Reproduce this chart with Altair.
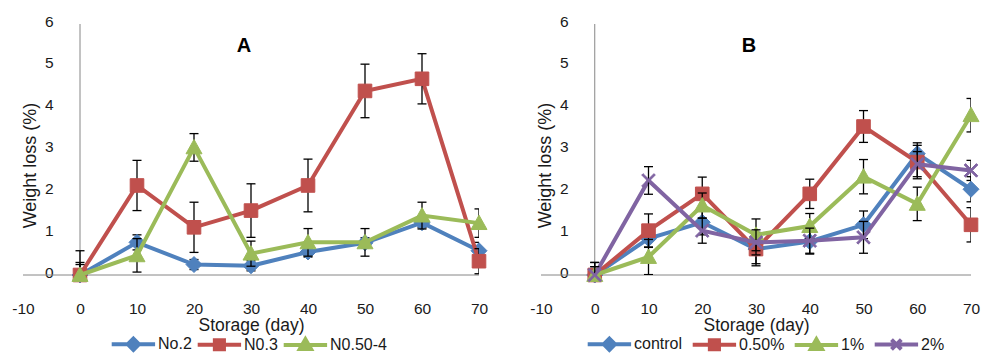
import altair as alt
import pandas as pd

FONT = "Liberation Sans"

days = [0, 10, 20, 30, 40, 50, 60, 70]
x_ticks = [-10, 0, 10, 20, 30, 40, 50, 60, 70]
y_ticks = [0, 1, 2, 3, 4, 5, 6]

# Panel A
a_names = ["No.2", "N0.3", "N0.50-4"]
a_no2 = [0, 0.78, 0.25, 0.22, 0.55, 0.77, 1.25, 0.58]
a_no2_err = [0.3, 0.18, 0.12, 0.12, 0.12, 0.12, 0.12, 0.2]
a_n03 = [0, 2.14, 1.14, 1.54, 2.14, 4.40, 4.69, 0.33]
a_n03_err = [0.58, 0.6, 0.6, 0.64, 0.63, 0.64, 0.6, 0.3]
a_n050 = [0, 0.47, 3.05, 0.51, 0.78, 0.78, 1.42, 1.24]
a_n050_err = [0.25, 0.4, 0.33, 0.3, 0.33, 0.33, 0.32, 0.34]

# Panel B
b_names = ["control", "0.50%", "1%", "2%"]
b_control = [0, 0.87, 1.26, 0.62, 0.8, 1.2, 2.9, 2.05]
b_control_err = [0.3, 0.2, 0.3, 0.4, 0.3, 0.33, 0.26, 0.3]
b_050 = [0, 1.06, 1.94, 0.62, 1.94, 3.55, 2.7, 1.2]
b_050_err = [0.3, 0.4, 0.4, 0.35, 0.35, 0.38, 0.4, 0.41]
b_1 = [0, 0.43, 1.66, 0.96, 1.17, 2.35, 1.7, 3.82]
b_1_err = [0.2, 0.42, 0.3, 0.38, 0.3, 0.41, 0.4, 0.4]
b_2 = [0, 2.26, 1.06, 0.78, 0.82, 0.9, 2.65, 2.5]
b_2_err = [0.2, 0.33, 0.3, 0.3, 0.3, 0.38, 0.3, 0.24]

BLUE, RED, GREEN, PURPLE = "#4F81BD", "#C0504D", "#9BBB59", "#8064A2"
AXIS_GREY = "#868686"
TEXT = "#1a1a1a"

# marker outlines (unit square, scaled by the symbol size)
P_DIAMOND = "M0,-1L1,0L0,1L-1,0Z"
P_SQUARE = "M-0.85,-0.85H0.85V0.85H-0.85Z"
P_TRIANGLE = "M0,-1L1,0.8H-1Z"
P_X = ("M-0.85,-0.68L-0.68,-0.85L0,-0.17L0.68,-0.85L0.85,-0.68L0.17,0"
       "L0.85,0.68L0.68,0.85L0,0.17L-0.68,0.85L-0.85,0.68L-0.17,0Z")

# legend symbols: line segment with marker in the middle
L_LINE = "M-4.9,0L1.3,0"
L_DIAMOND = L_LINE + "M-1.8,-0.8L-1.0,0L-1.8,0.8L-2.6,0Z"
L_SQUARE = L_LINE + "M-2.45,-0.65H-1.15V0.65H-2.45Z"
L_TRIANGLE = L_LINE + "M-1.8,-0.8L-1.0,0.6H-2.6Z"
L_X = L_LINE + "M-2.5,-0.7L-1.1,0.7M-2.5,0.7L-1.1,-0.7"


def make_df(names, vals, errs):
    rows = []
    for n, v, e in zip(names, vals, errs):
        for d, vv, ee in zip(days, v, e):
            rows.append({"series": n, "day": d, "value": vv,
                         "lo": vv - ee, "hi": vv + ee})
    return pd.DataFrame(rows)


def panel(names, vals, errs, colors, pshapes, lshapes, title, width,
          yoff, legend_x, col_pad):
    df = make_df(names, vals, errs)
    xs = alt.Scale(domain=[x_ticks[0], x_ticks[-1]], nice=False, zero=False)
    ys = alt.Scale(domain=[y_ticks[0], y_ticks[-1]], nice=False, zero=False)
    xa = alt.Axis(
        values=x_ticks, title="Storage (day)", grid=False, domain=False,
        ticks=False, tickSize=0, labelPadding=26, titlePadding=0,
        labelFontSize=15.5, titleFontSize=17.5, titleFontWeight="normal",
        labelColor=TEXT, titleColor=TEXT, labelFont=FONT, titleFont=FONT,
        labelFlush=False,
        labelExpr="datum.value < 0 ? '-' + abs(datum.value) : datum.label")
    ya = alt.Axis(
        values=y_ticks, title="Weight loss (%)", grid=False, domain=False,
        ticks=False, tickSize=0, offset=yoff, labelPadding=2, labelOffset=-3,
        titlePadding=5, labelFontSize=15.5, titleFontSize=18, titleY=141,
        titleFontWeight="normal", labelColor=TEXT, titleColor=TEXT,
        labelFont=FONT, titleFont=FONT)

    def X(f):
        return alt.X(f, scale=xs, axis=xa)

    def Y(f):
        return alt.Y(f, scale=ys, axis=ya)

    frame = pd.DataFrame({"x0": [x_ticks[0]], "x1": [x_ticks[-1]],
                          "y0": [y_ticks[0]], "y1": [y_ticks[-1]],
                          "xz": [0]})
    hline = alt.Chart(frame).mark_rule(color=AXIS_GREY, strokeWidth=1).encode(
        x=X("x0:Q"), x2="x1:Q", y=Y("y0:Q"))
    vline = alt.Chart(frame).mark_rule(color=AXIS_GREY, strokeWidth=1).encode(
        x=X("xz:Q"), y=Y("y0:Q"), y2="y1:Q")

    layers = [hline, vline]
    for name, col, shp in zip(names, colors, pshapes):
        sub = alt.Chart(df).transform_filter(alt.datum.series == name)
        line = sub.mark_line(color=col, strokeWidth=4).encode(
            x=X("day:Q"), y=Y("value:Q"))
        erule = sub.mark_rule(color="black", strokeWidth=1.3, clip=True).encode(
            x=X("day:Q"), y=Y("lo:Q"), y2="hi:Q")
        cap_lo = sub.mark_tick(color="black", orient="horizontal", size=9,
                               thickness=1.3, opacity=1, clip=True).encode(
            x=X("day:Q"), y=Y("lo:Q"))
        cap_hi = sub.mark_tick(color="black", orient="horizontal", size=9,
                               thickness=1.3, opacity=1, clip=True).encode(
            x=X("day:Q"), y=Y("hi:Q"))
        pts = sub.mark_point(shape=shp, fill=col, stroke=col, strokeWidth=1,
                             size=256, opacity=1, filled=True).encode(
            x=X("day:Q"), y=Y("value:Q"))
        layers += [line, erule, cap_lo, cap_hi, pts]

    names_df = pd.DataFrame({"series": names})
    leg_args = dict(orient="none", legendX=legend_x, legendY=311,
                    direction="horizontal", columns=len(names), title=None,
                    labelFont=FONT, labelFontSize=16, labelColor=TEXT,
                    labelOffset=3, columnPadding=col_pad, symbolSize=196,
                    symbolStrokeWidth=4, symbolOpacity=1)
    leg = alt.Chart(names_df).mark_point(size=196, strokeWidth=4, opacity=1,
                                         clip=True).encode(
        x=alt.XDatum(-1000, scale=xs, axis=xa),
        y=alt.YDatum(3, scale=ys, axis=ya),
        fill=alt.Fill("series:N", scale=alt.Scale(domain=names, range=colors),
                      legend=alt.Legend(**leg_args)),
        stroke=alt.Stroke("series:N", scale=alt.Scale(domain=names, range=colors),
                          legend=alt.Legend(**leg_args)),
        shape=alt.Shape("series:N", scale=alt.Scale(domain=names, range=lshapes),
                        legend=alt.Legend(**leg_args)))
    layers.append(leg)

    return alt.layer(*layers).properties(
        width=width, height=251,
        title=alt.Title(title, fontSize=20, fontWeight="bold", font=FONT,
                        color="black", anchor="middle", dx=-7, dy=42, offset=0))


left = panel(a_names, [a_no2, a_n03, a_n050], [a_no2_err, a_n03_err, a_n050_err],
             [BLUE, RED, GREEN], [P_DIAMOND, P_SQUARE, P_TRIANGLE],
             [L_DIAMOND, L_SQUARE, L_TRIANGLE], "A", 456, -32, 114, -3)
right = panel(b_names, [b_control, b_050, b_1, b_2],
              [b_control_err, b_050_err, b_1_err, b_2_err],
              [BLUE, RED, GREEN, PURPLE],
              [P_DIAMOND, P_SQUARE, P_TRIANGLE, P_X],
              [L_DIAMOND, L_SQUARE, L_TRIANGLE, L_X], "B", 430, -29, 72, 1)

chart = alt.hconcat(left, right, spacing=40).resolve_scale(
    fill="independent", stroke="independent", shape="independent"
).properties(
    padding={"left": 11, "top": 14, "right": 0, "bottom": 0},
    background="white",
).configure_view(stroke=None)

chart.save("out.html", embed_options={"renderer": "svg", "actions": False})
